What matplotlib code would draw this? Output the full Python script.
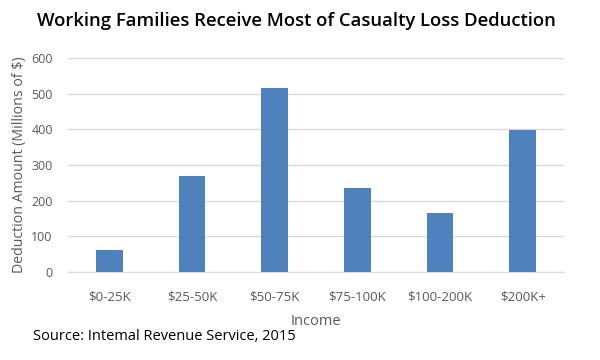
import matplotlib
matplotlib.use("Agg")
import matplotlib.pyplot as plt

# income brackets and casualty loss deduction amounts (millions of $)
incomeGroups = ["$0-25K", "$25-50K", "$50-75K", "$75-100K", "$100-200K", "$200K+"]
deductionAmounts = [61, 269, 517, 235, 166, 398]
yTicks = [0, 100, 200, 300, 400, 500, 600]

plt.rcParams['font.family'] = ['Open Sans', 'DejaVu Sans']

fig = plt.figure(figsize=(6, 3.6), dpi=100)
ax = fig.add_axes([68/600, 1 - 272/360, 496/600, 214/360])

positions = range(len(incomeGroups))
ax.bar(positions, deductionAmounts, width=0.32, color="#4F81BD", zorder=3)

# axis ranges and ticks
ax.set_xlim(-0.5, len(incomeGroups) - 0.5)
ax.set_ylim(0, 600)
ax.set_yticks(yTicks)
ax.set_xticks(list(positions))
ax.set_xticklabels(incomeGroups)
ax.tick_params(axis='both', length=0, colors="#595959")
ax.tick_params(axis='x', pad=13, labelsize=9.5)
ax.tick_params(axis='y', pad=11, labelsize=9)

ax.yaxis.grid(True, color="#D9D9D9", linewidth=1, zorder=0)
for side in ["top", "right", "left"]:
    ax.spines[side].set_visible(False)
ax.spines["bottom"].set_color("#D9D9D9")

# labels and titles
ax.set_xlabel("Income", color="#595959", fontsize=10.5, labelpad=8)
ax.set_ylabel("Deduction Amount (Millions of $)", color="#595959", fontsize=10.2, labelpad=3)
fig.text(296/600, 1 - 21/360, "Working Families Receive Most of Casualty Loss Deduction",
         ha="center", va="center", fontsize=13.3, fontweight="semibold", color="black")
fig.text(33/600, 1 - 337/360, "Source: Intemal Revenue Service, 2015",
         ha="left", va="center", fontsize=10.5, color="black")

fig.savefig("out.png", dpi=100)
